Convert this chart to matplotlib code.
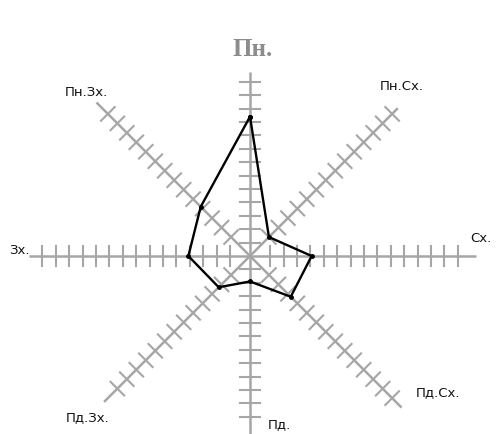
import numpy as np
import matplotlib.pyplot as plt

# wind rose: directions and number of days
directions = ['Пн.', 'Пн.Сх.', 'Сх.', 'Пд.Сх.', 'Пд.', 'Пд.Зх.', 'Зх.', 'Пн.Зх.']
angles = [90, 45, 0, 315, 270, 225, 180, 135]
values = [10.4, 2.0, 4.6, 4.3, 1.9, 3.3, 4.6, 5.2]

# length of each axis and where its ticks start / end
axis_len = [13.7, 15.6, 16.9, 16.0, 13.6, 15.4, 16.5, 16.2]
tick_from = [1, 2, 1.5, 2, 1, 2, 1.5, 2]
tick_to = [13, 15, 15.5, 15, 12, 14.5, 15.5, 15]

# where the direction names sit
label_x = [0.2, 11.3, 17.2, 14.0, 2.2, -12.1, -17.2, -12.2]
label_y = [15.45, 12.7, 1.4, -10.1, -12.5, -12.0, 0.5, 12.3]

unit = 13.4
fig = plt.figure(figsize=(5, 4.35), dpi=100)
ax = fig.add_axes([0, 0, 1, 1])
ax.set_xlim(-250 / unit, 250 / unit)
ax.set_ylim(-(435 - 257) / unit, 257 / unit)
ax.axis('off')

grey = '#a6a6a6'
half = 0.72
for a, L, t0, t1 in zip(angles, axis_len, tick_from, tick_to):
    th = np.radians(a)
    dx, dy = np.cos(th), np.sin(th)
    ax.plot([0, L * dx], [0, L * dy], color=grey, lw=1.8, solid_capstyle='butt', zorder=1)
    for r in np.arange(t0, t1 + 0.01, 1.0):
        cx, cy = r * dx, r * dy
        ax.plot([cx - half * dy, cx + half * dy], [cy + half * dx, cy - half * dx],
                color=grey, lw=1.5, zorder=1)

# the rose itself
th = np.radians(angles)
xs = np.array(values) * np.cos(th)
ys = np.array(values) * np.sin(th)
xs = np.append(xs, xs[0])
ys = np.append(ys, ys[0])
ax.plot(xs, ys, color='black', lw=1.7, marker='o', markersize=2.5, zorder=3)

for name, x, y in zip(directions, label_x, label_y):
    if name == 'Пн.':
        ax.text(x, y, name, ha='center', va='center', fontsize=18, fontweight='bold',
                family='Liberation Serif', color='#8c8c8c')
    else:
        ax.text(x, y, name, ha='center', va='center', fontsize=9.5,
                family='DejaVu Sans', color='#111111')

fig.savefig('out.png', dpi=100)
